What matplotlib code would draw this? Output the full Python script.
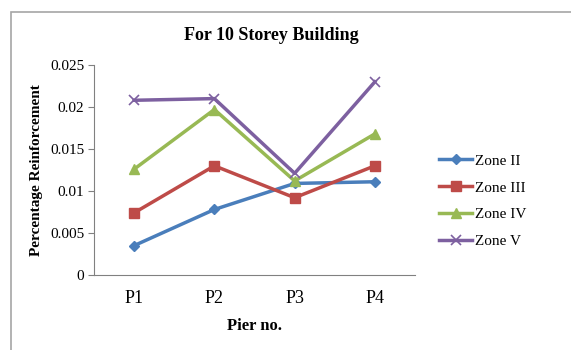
import matplotlib.pyplot as plt
from matplotlib.patches import Rectangle

piers = ["P1", "P2", "P3", "P4"]
zone_2 = [0.0035, 0.0078, 0.0109, 0.0111]
zone_3 = [0.0074, 0.0130, 0.0092, 0.0130]
zone_4 = [0.0126, 0.0197, 0.0112, 0.0168]
zone_5 = [0.0208, 0.0210, 0.0121, 0.0230]

plt.rcParams['font.family'] = 'Liberation Serif'

fig = plt.figure(figsize=(5.71, 3.5), dpi=100)
# chart area frame, running off the right and bottom edges
fig.patches.append(Rectangle((11 / 571, -0.1), 1.2, 1 - 12 / 350 + 0.1,
                             transform=fig.transFigure, fill=False,
                             edgecolor='#a6a6a6', linewidth=1.2))

ax = fig.add_axes([94 / 571, 1 - 275 / 350, 321 / 571, 210 / 350])
x = range(len(piers))
ax.plot(x, zone_2, color='#4a7ebb', marker='D', markersize=5, linewidth=2.5, label='Zone II')
ax.plot(x, zone_3, color='#be4b48', marker='s', markersize=7, linewidth=2.5, label='Zone III')
ax.plot(x, zone_4, color='#98b954', marker='^', markersize=7, linewidth=2.5, label='Zone IV')
ax.plot(x, zone_5, color='#7d60a0', marker='x', markersize=7, markeredgewidth=1.2,
        linewidth=2.5, label='Zone V')

ax.set_xlim(-0.5, 3.5)
ax.set_ylim(0, 0.025)
ax.set_yticks([0, 0.005, 0.01, 0.015, 0.02, 0.025])
ax.set_yticklabels(['0', '0.005', '0.01', '0.015', '0.02', '0.025'])
ax.set_xticks(list(x))
ax.set_xticklabels(piers, fontsize=13)
ax.tick_params(axis='y', labelsize=11, length=4, color='#808080', pad=3)
ax.tick_params(axis='x', length=0, pad=11)
for side in ['top', 'right']:
    ax.spines[side].set_visible(False)
for side in ['left', 'bottom']:
    ax.spines[side].set_color('#808080')

ax.set_ylabel('Percentage Reinforcement', fontsize=11, fontweight='bold', labelpad=5)
ax.set_xlabel('Pier no.', fontsize=12, fontweight='bold', labelpad=8)
fig.text(271 / 571, 1 - 35 / 350, 'For 10 Storey Building', fontsize=13, fontweight='bold',
         ha='center', va='center')

ax.legend(loc='center left', bbox_to_anchor=(425 / 571, 1 - 201 / 350),
          bbox_transform=fig.transFigure, frameon=False, fontsize=11,
          handlelength=2.2, handletextpad=0.15, labelspacing=0.85)

fig.savefig('out.png', dpi=100)
